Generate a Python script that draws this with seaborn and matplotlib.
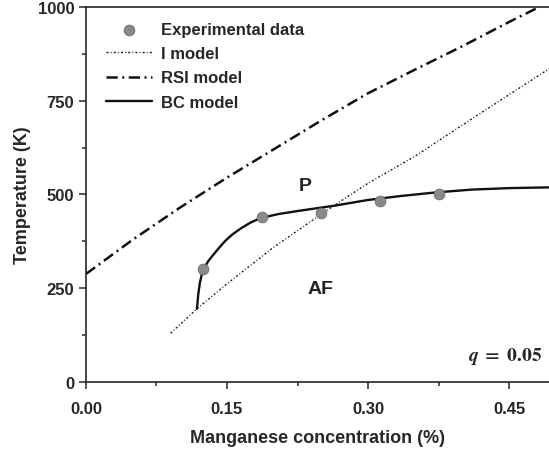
import seaborn as sns
import matplotlib.pyplot as plt
from matplotlib.ticker import MultipleLocator

# experimental points
exp_x = [0.125, 0.1875, 0.25, 0.3125, 0.375]
exp_t = [300, 440, 450, 482, 500]

# I model
i_x = [0.09, 0.118, 0.15, 0.2, 0.25, 0.269, 0.3, 0.35, 0.413, 0.4936]
i_t = [130, 195, 262, 360, 447, 479, 530, 602, 706, 837]

# RSI model
rsi_x = [0.0, 0.05, 0.1, 0.15, 0.2, 0.25, 0.3, 0.35, 0.4, 0.45, 0.482]
rsi_t = [288, 380, 465, 545, 621, 697, 770, 833, 895, 960, 1000]

# BC model
bc_x = [0.118, 0.1195, 0.121, 0.123, 0.126, 0.13, 0.135, 0.141, 0.148, 0.156,
        0.165, 0.175, 0.1855, 0.205, 0.228, 0.264, 0.299, 0.335, 0.37, 0.41,
        0.45, 0.4936]
bc_t = [195, 235, 262, 285, 305, 322, 338, 356, 376, 394, 410, 425, 437,
        448, 457, 470, 485, 496, 505, 513, 517, 519]

sns.set_style("ticks")
plt.rcParams['font.family'] = ['Liberation Sans', 'DejaVu Sans']
plt.rcParams['font.weight'] = 'bold'
plt.rcParams['mathtext.fontset'] = 'stix'

fig = plt.figure(figsize=(5.49, 4.52), dpi=100)
ax = fig.add_axes([0.1566, 0.1527, 0.8434, 0.8296])

sns.scatterplot(x=exp_x, y=exp_t, ax=ax, s=60, color='#8a8a8a',
                edgecolor='#6a6a6a', linewidth=0.6, label='Experimental data', zorder=5)
sns.lineplot(x=i_x, y=i_t, ax=ax, color='#222222', linewidth=1.0,
             linestyle=(0, (1.5, 1.5, 0.7, 1.5)), label='I model')
sns.lineplot(x=rsi_x, y=rsi_t, ax=ax, color='#111111', linewidth=1.8,
             linestyle=(0, (4.5, 1.8, 0.8, 1.8)), label='RSI model')
sns.lineplot(x=bc_x, y=bc_t, ax=ax, color='#111111', linewidth=1.7,
             label='BC model')

ax.set_xlim(0, 0.4925)
ax.set_ylim(0, 1000)
ax.xaxis.set_minor_locator(MultipleLocator(0.075))
ax.yaxis.set_major_locator(MultipleLocator(250))
ax.yaxis.set_minor_locator(MultipleLocator(125))
ax.set_xticks([0, 0.15, 0.30, 0.45])
ax.set_xticklabels(['0.00', '0.15', '0.30', '0.45'])
ax.tick_params(which='major', length=5, width=1.1, labelsize=12, direction='out')
ax.tick_params(axis='x', which='major', pad=9)
ax.tick_params(which='minor', length=3, width=1.1, direction='out')
for lab in ax.get_xticklabels() + ax.get_yticklabels():
    lab.set_fontweight('bold')
for sp in ax.spines.values():
    sp.set_linewidth(1.2)
ax.spines['right'].set_visible(False)

ax.set_xlabel('Manganese concentration (%)', fontsize=13, fontweight='bold', labelpad=9)
ax.set_ylabel('Temperature (K)', fontsize=13, fontweight='bold', labelpad=5)

ax.text(0.233, 523, 'P', fontsize=14, fontweight='bold', ha='center', va='center', color='#222222')
ax.text(0.25, 248, 'AF', fontsize=14, fontweight='bold', ha='center', va='center', color='#222222')
ax.text(0.485, 70, r'$\mathbfit{q}\;\mathbf{=}\;\mathbf{0.05}$', fontsize=14,
        ha='right', va='center')

leg = ax.legend(loc='upper left', bbox_to_anchor=(0.01, 1.0), frameon=False,
                fontsize=12, handlelength=2.8, handletextpad=0.55, labelspacing=0.55)
for t in leg.get_texts():
    t.set_fontweight('bold')

fig.savefig('out.png', dpi=100)
